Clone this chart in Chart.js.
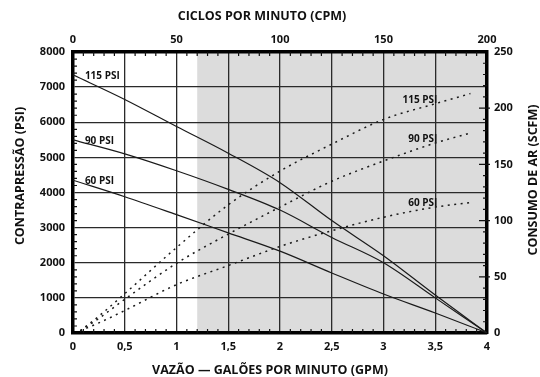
<!DOCTYPE html>
<html>
<head>
<meta charset="utf-8">
<script src="https://cdn.jsdelivr.net/npm/chart.js@4/dist/chart.umd.min.js"></script>
<style>
  html, body { margin: 0; padding: 0; background: #fff; }
  #wrap { width: 540px; height: 377px; position: relative; }
</style>
</head>
<body>
<div id="wrap"><canvas id="chart"></canvas></div>
<script>
// curvas de contrapressão (PSI) x vazão (GPM)
const gpm = [0, 0.5, 1, 1.5, 2, 2.5, 3, 3.5, 4];
const psi115 = [7350, 6650, 5880, 5120, 4280, 3200, 2200, 1080, 0];
const psi90 = [5500, 5100, 4620, 4090, 3500, 2720, 2000, 1000, 0];
const psi60 = [4350, 3880, 3370, 2850, 2330, 1710, 1110, 570, 0];

// curvas de consumo de ar (SCFM) x vazão (GPM)
const gpmAr = [0.07, 0.25, 0.5, 1, 1.5, 2, 2.5, 3, 3.5, 3.84];
const scfm115 = [2, 15, 35, 76, 114, 144, 168, 190, 204, 213];
const scfm90 = [2, 13, 30, 62, 88, 112, 135, 153, 169, 178];
const scfm60 = [2, 9, 20, 43, 60, 77, 91, 103, 112, 116];

const pressoes = ['115 PSI', '90 PSI', '60 PSI'];
const faixaSombreada = [1.2, 4]; // GPM

const pts = (xs, ys) => xs.map((v, i) => ({ x: v, y: ys[i] }));

Chart.defaults.font.family = "'Open Sans', sans-serif";
Chart.defaults.font.weight = 'bold';
Chart.defaults.color = '#111';

const tickFont = { size: 11, weight: 'bold' };
const gridCor = '#2a2a2a';

const solida = (data) => ({
  data, yAxisID: 'y', borderColor: '#1a1a1a', borderWidth: 1.2,
  pointRadius: 0, cubicInterpolationMode: 'monotone', fill: false
});
const tracejada = (data) => ({
  data, yAxisID: 'y2', borderColor: '#1a1a1a', borderWidth: 1.5,
  borderDash: [2, 4.5], pointRadius: 0, cubicInterpolationMode: 'monotone', fill: false
});

const decor = {
  id: 'decor',
  beforeDraw(chart) {
    const { ctx, chartArea: a, scales: { x } } = chart;
    const x0 = x.getPixelForValue(faixaSombreada[0]);
    const x1 = x.getPixelForValue(faixaSombreada[1]);
    ctx.save();
    ctx.fillStyle = '#dcdcdc';
    ctx.fillRect(x0, a.top, x1 - x0, a.bottom - a.top);
    ctx.restore();
  },
  afterDatasetsDraw(chart) {
    const { ctx, chartArea: a, scales: { x, y, y2 } } = chart;
    ctx.save();
    ctx.strokeStyle = '#111';
    ctx.lineWidth = 1.2;
    ctx.beginPath();
    // marcas menores
    for (let i = 1; i < 40; i++) {
      if (i % 5 === 0) continue;
      const px = x.getPixelForValue(i / 10);
      ctx.moveTo(px, a.bottom); ctx.lineTo(px, a.bottom - 4);
      ctx.moveTo(px, a.top); ctx.lineTo(px, a.top + 4);
    }
    for (let v = 200; v < 8000; v += 200) {
      if (v % 1000 === 0) continue;
      const py = y.getPixelForValue(v);
      ctx.moveTo(a.left, py); ctx.lineTo(a.left + 4, py);
    }
    for (let v = 10; v < 250; v += 10) {
      const py = y2.getPixelForValue(v);
      const len = v % 50 === 0 ? 8 : 4;
      ctx.moveTo(a.right, py); ctx.lineTo(a.right - len, py);
      if (v % 50 === 0) { ctx.moveTo(a.right, py); ctx.lineTo(a.right + 3, py); }
    }
    ctx.stroke();

    // rótulos das curvas
    ctx.fillStyle = '#111';
    ctx.font = "bold 10px 'Open Sans'";
    ctx.textBaseline = 'middle';
    ctx.textAlign = 'left';
    [psi115[0], psi90[0], psi60[0]].forEach((v, i) => {
      ctx.fillText(pressoes[i], x.getPixelForValue(0.115), y.getPixelForValue(v) + 1);
    });
    ctx.textAlign = 'right';
    [207, 172.5, 115.5].forEach((v, i) => {
      ctx.fillText(pressoes[i], x.getPixelForValue(3.52), y2.getPixelForValue(v));
    });
    ctx.restore();
  },
  afterDraw(chart) {
    const { ctx, chartArea: a } = chart;
    ctx.save();
    ctx.fillStyle = '#111';
    ctx.font = "bold 12.5px 'Open Sans'";
    ctx.textAlign = 'center';
    ctx.textBaseline = 'middle';
    ctx.fillText('CICLOS POR MINUTO (CPM)', a.left + 189, 16.5);
    ctx.fillText('VAZÃO — GALÕES POR MINUTO (GPM)', a.left + 197, 370);
    ctx.translate(20, a.top + 124);
    ctx.rotate(-Math.PI / 2);
    ctx.fillText('CONTRAPRESSÃO (PSI)', 0, 0);
    ctx.restore();
    ctx.save();
    ctx.fillStyle = '#111';
    ctx.font = "bold 12.5px 'Open Sans'";
    ctx.textAlign = 'center';
    ctx.textBaseline = 'middle';
    ctx.translate(533, a.top + 128);
    ctx.rotate(-Math.PI / 2);
    ctx.fillText('CONSUMO DE AR (SCFM)', 0, 0);
    ctx.restore();
  }
};

new Chart(document.getElementById('chart'), {
  type: 'line',
  data: {
    datasets: [
      solida(pts(gpm, psi115)),
      solida(pts(gpm, psi90)),
      solida(pts(gpm, psi60)),
      tracejada(pts(gpmAr, scfm115)),
      tracejada(pts(gpmAr, scfm90)),
      tracejada(pts(gpmAr, scfm60))
    ]
  },
  options: {
    responsive: true,
    maintainAspectRatio: false,
    animation: false,
    events: [],
    layout: { padding: 0 },
    plugins: { legend: { display: false }, tooltip: { enabled: false } },
    scales: {
      x: {
        type: 'linear', position: 'bottom', min: 0, max: 4,
        ticks: { stepSize: 0.5, padding: 7, font: tickFont, maxRotation: 0,
          callback: (v) => String(v).replace('.', ',') },
        grid: { color: gridCor, lineWidth: 1.3, drawTicks: false },
        border: { color: '#000', width: 3.5 },
        afterFit: (s) => { s.height = 44; }
      },
      x2: {
        type: 'linear', position: 'top', min: 0, max: 200,
        ticks: { stepSize: 50, padding: 6, font: tickFont, maxRotation: 0,
          callback: (v) => String(v) },
        grid: { display: false, drawTicks: false },
        border: { color: '#000', width: 3.5 },
        afterFit: (s) => { s.height = 52; }
      },
      y: {
        type: 'linear', position: 'left', min: 0, max: 8000,
        ticks: { stepSize: 1000, padding: 8, font: tickFont,
          callback: (v) => String(v) },
        grid: { color: gridCor, lineWidth: 1.3, drawTicks: false },
        border: { color: '#000', width: 3.5 },
        afterFit: (s) => { s.width = 73; }
      },
      y2: {
        type: 'linear', position: 'right', min: 0, max: 250,
        ticks: { stepSize: 50, padding: 7, font: tickFont,
          callback: (v) => String(v) },
        grid: { display: false, drawTicks: false },
        border: { color: '#000', width: 3.5 },
        afterFit: (s) => { s.width = 53; }
      }
    }
  },
  plugins: [decor]
});
</script>
</body>
</html>
